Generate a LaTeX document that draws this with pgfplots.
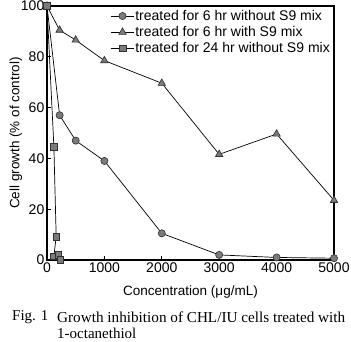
\documentclass[border=0pt]{standalone}
\usepackage{pgfplots}
\pgfplotsset{compat=1.18}
\usepackage{fontspec}
\setmainfont{Liberation Sans}
\newfontfamily\capfont{Liberation Serif}
\definecolor{mk}{HTML}{7A7A7A}
\definecolor{mkedge}{HTML}{303030}
\begin{document}
\begin{tikzpicture}
\useasboundingbox (0pt,0pt) rectangle (351pt,342pt);
\begin{axis}[
  at={(47pt,82pt)}, anchor=south west,
  scale only axis, width=287pt, height=254pt,
  xmin=0, xmax=5000, ymin=0, ymax=100,
  xtick={0,1000,2000,3000,4000,5000},
  ytick={0,20,40,60,80,100},
  tick pos=left, tick align=inside,
  major tick length=4pt,
  axis line style={line width=1.2pt},
  every tick/.style={black, line width=0.8pt},
  font=\fontsize{13.5}{16}\selectfont,
  tick label style={font=\fontsize{14}{16}\selectfont},
  /pgf/number format/assume math mode=true,
  /pgf/number format/1000 sep={},
  scaled ticks=false,
  xticklabel style={inner sep=3pt},
  yticklabel style={inner sep=2.5pt},
  xlabel={Concentration (μg/mL)},
  ylabel={Cell growth (\% of control)},
  xlabel style={at={(axis description cs:0.5,-0.126)}, anchor=center},
  ylabel style={at={(axis description cs:-0.108,0.5)}, anchor=center},
  legend style={at={(rel axis cs:1,1)}, anchor=north east, xshift=-2pt, yshift=-2pt,
    draw=none, fill=none, inner sep=1pt, row sep=2.5pt,
    font=\fontsize{14}{16}\selectfont, nodes={inner sep=1pt}},
  legend cell align=left,
  legend image code/.code={\draw[mark repeat=2,mark phase=2] plot coordinates {(0cm,0cm) (0.4cm,0cm) (0.8cm,0cm)};},
]
\addplot[black, line width=0.7pt, mark=*, mark size=3.6pt, mark options={fill=mk, draw=mkedge, line width=0.6pt}] coordinates {
(0,100) (220,57) (500,47) (1000,39) (2000,10.5) (3000,2) (4000,1) (5000,0.7)};
\addlegendentry{treated for 6 hr without S9 mix}
\addplot[black, line width=0.7pt, mark=triangle*, mark size=4.3pt, mark options={fill=mk, draw=mkedge, line width=0.6pt}] coordinates {
(0,100) (220,90.5) (500,86.6) (1000,78.5) (2000,69.6) (3000,41.6) (4000,49.6) (5000,23.5)};
\addlegendentry{treated for 6 hr with S9 mix}
\addplot[black, line width=0.7pt, mark=square*, mark size=3.3pt, mark options={fill=mk, draw=mkedge, line width=0.6pt}] coordinates {
(0,100) (120,44.6) (160,9.2) (120,1.5) (200,2) (235,0)};
\addlegendentry{treated for 24 hr without S9 mix}
\end{axis}
\node[anchor=west, inner sep=0pt, font=\capfont\fontsize{15}{16}\selectfont] at (12pt,25pt) {Fig. 1};
\node[anchor=west, inner sep=0pt] at (57pt,25pt) {\resizebox{288pt}{!}{\capfont\fontsize{14.5}{16}\selectfont Growth inhibition of CHL/IU cells treated with}};
\node[anchor=west, inner sep=0pt, font=\capfont\fontsize{15}{16}\selectfont] at (57pt,9pt) {1-octanethiol};
\end{tikzpicture}
\end{document}
